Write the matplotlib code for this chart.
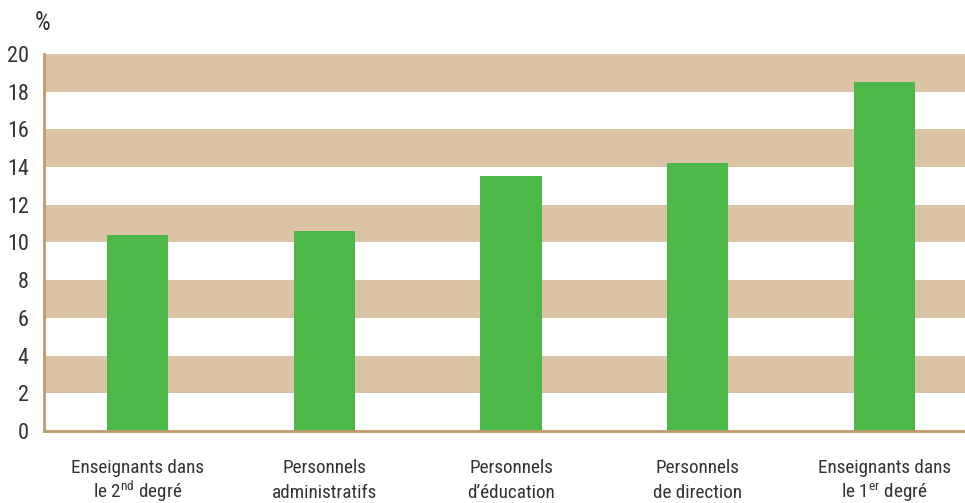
import numpy as np
import matplotlib.pyplot as plt
import matplotlib.transforms as mtransforms

plt.rcParams['font.family'] = ['Roboto Condensed', 'Roboto', 'DejaVu Sans']
plt.rcParams['mathtext.fontset'] = 'custom'
plt.rcParams['mathtext.rm'] = 'Roboto Condensed'

line1 = ["Enseignants dans", "Personnels", "Personnels", "Personnels", "Enseignants dans"]
line2 = ["le 2$^{\\mathrm{nd}}$ degré", "administratifs", "d\u2019éducation",
         "de direction", "le 1$^{\\mathrm{er}}$ degré"]
values = [10.4, 10.6, 13.5, 14.2, 18.5]
yticks = [0, 2, 4, 6, 8, 10, 12, 14, 16, 18, 20]

tan = '#dbc4a5'
green = '#4cb848'
spine = '#bf9a6a'
txt = '#333333'

fig = plt.figure(figsize=(9.65, 5.03), dpi=100)
ax = fig.add_axes([0.0456, 0.143, 0.9544, 0.750])

for lo in range(2, 20, 4):
    ax.axhspan(lo, lo + 2, color=tan, lw=0, zorder=0)

x = np.arange(len(values))
ax.bar(x, values, width=0.327, color=green, zorder=2)

ax.set_xlim(-0.5, 4.43)
ax.set_ylim(0, 20)
ax.set_yticks(yticks)
ax.set_xticks([])
ax.tick_params(axis='y', length=0, pad=11, labelsize=16, labelcolor=txt)

# category labels, two lines with aligned baselines
tr = mtransforms.blended_transform_factory(ax.transData, fig.transFigure)
for i in range(len(values)):
    ax.text(x[i], 1 - 473 / 503, line1[i], transform=tr, ha='center', va='baseline',
            fontsize=13.8, color=txt, clip_on=False)
    ax.text(x[i], 1 - 498 / 503, line2[i], transform=tr, ha='center', va='baseline',
            fontsize=13.8, color=txt, clip_on=False)

for s in ['top', 'right']:
    ax.spines[s].set_visible(False)
for s in ['left', 'bottom']:
    ax.spines[s].set_color(spine)
    ax.spines[s].set_linewidth(2)

fig.text(0.036, 0.955, '%', fontsize=18, color=txt, va='center', ha='left')

fig.savefig('out.png', dpi=100)
